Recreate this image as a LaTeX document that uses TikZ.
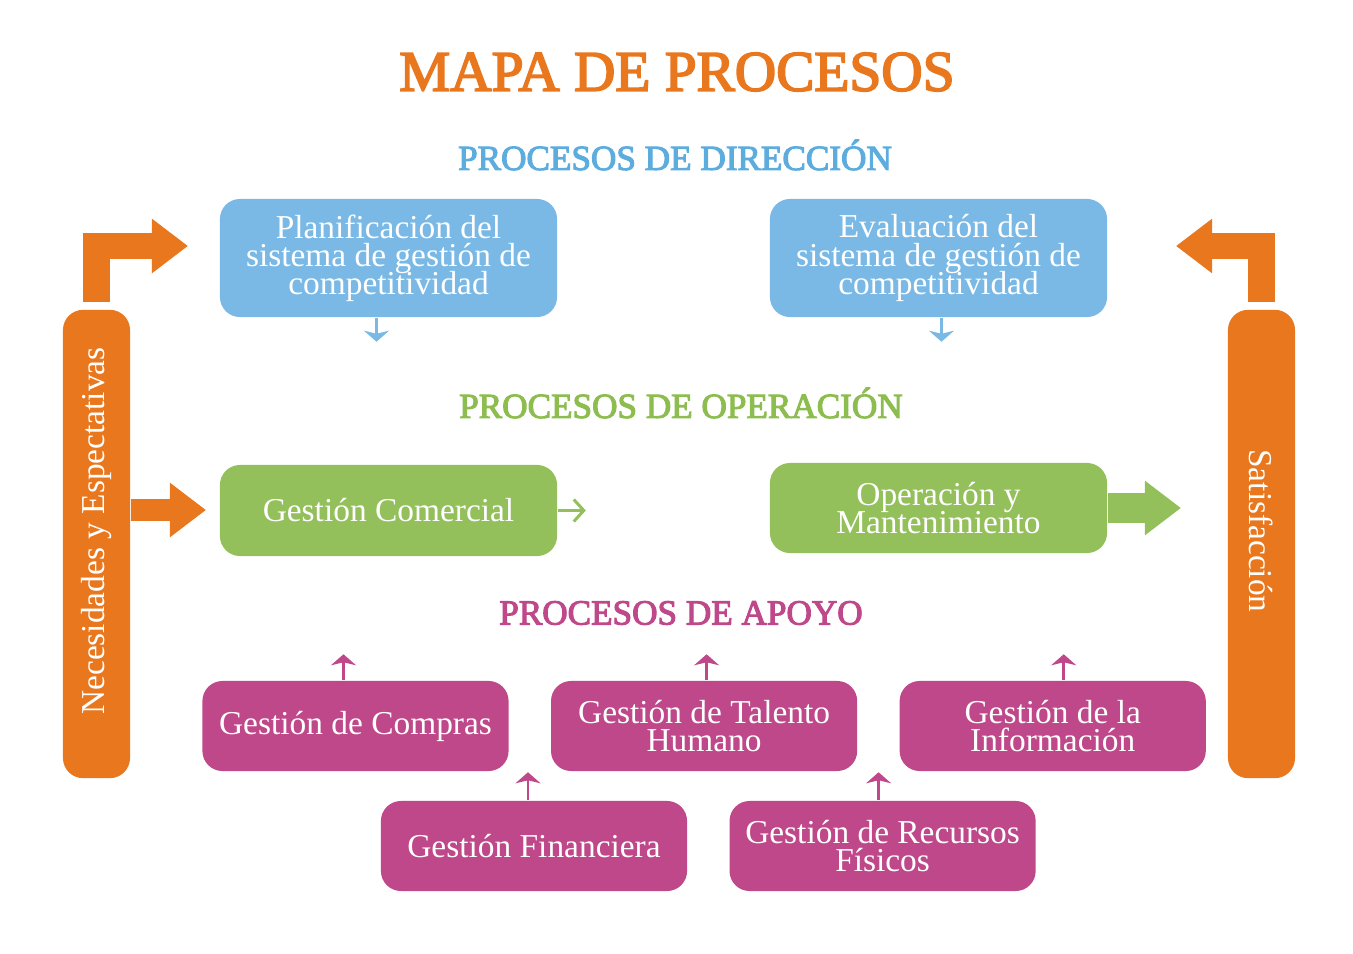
\documentclass[tikz,border=0pt]{standalone}
\usepackage{fontspec}
\setmainfont{Liberation Serif}
\newfontface\seminegra{Liberation Serif}[FakeBold=3]
\newcommand\juntas{\lineskiplimit-10pt\relax}
\usetikzlibrary{arrows.meta, positioning}
\definecolor{naranja}{RGB}{233,119,30}
\definecolor{azul}{RGB}{122,185,230}
\definecolor{azultit}{RGB}{92,172,222}
\definecolor{verde}{RGB}{147,192,90}
\definecolor{verdetit}{RGB}{140,189,78}
\definecolor{rosa}{RGB}{190,72,137}

\begin{document}
\begin{tikzpicture}[
        x=0.01cm, y=-0.01cm,
        font=\fontsize{9.5}{8}\selectfont\juntas, node distance=0.41cm,
        caja/.style={rounded corners=0.2cm, minimum width=3.37cm, minimum height=1.18cm, align=center, text=white, inner sep=0pt},
        apoyo/.style={caja, fill=rosa, minimum width=3.06cm, minimum height=0.9cm},
        barra/.style={fill=naranja, rounded corners=0.2cm, minimum width=0.67cm, minimum height=4.68cm, inner sep=0pt},
        titulo/.style={font=\seminegra\fontsize{10}{12}\selectfont},
        gruesa/.style={line join=miter, -{Triangle[length=0.36cm, width=0.52cm]}},
        fina/.style={line width=0.85pt, -{Stealth[length=0.11cm, width=0.25cm, inset=0.03cm]}}
    ]
        \useasboundingbox (0,0) rectangle (1353,954);

        \node[font=\seminegra\fontsize{16.3}{18}\selectfont, text=naranja] (mapa) at (677,72) {MAPA DE PROCESOS};

        % direccion
        \node[titulo, text=azultit] (tdir) at (675,155) {PROCESOS DE DIRECCIÓN};
        \node[caja, fill=azul] (plan) at (388.5,258) {Planificación del\\sistema de gestión de\\competitividad};
        \node[caja, fill=azul] (eval) at (938.5,258) {Evaluación del\\sistema de gestión de\\competitividad};

        % operacion
        \node[titulo, text=verdetit] (tope) at (681,403) {PROCESOS DE OPERACIÓN};
        \node[caja, fill=verde, minimum height=0.91cm] (com) at (388.5,510.5) {Gestión Comercial};
        \node[caja, fill=verde, minimum height=0.9cm] (opm) at (938.5,508) {Operación y\\Mantenimiento};

        % apoyo
        \node[titulo, text=rosa] (tapo) at (681,613) {PROCESOS DE APOYO};
        \node[apoyo] (comp) at (355.5,726) {Gestión de Compras};
        \node[apoyo, right=of comp] (tal) {Gestión de Talento\\Humano};
        \node[apoyo, right=of tal] (info) {Gestión de la\\Información};
        \node[apoyo] (fin) at (534,846) {Gestión Financiera};
        \node[apoyo, right=of fin] (rec) {Gestión de Recursos\\Físicos};

        % barras laterales
        \node[barra] (lbar) at (96.5,544) {};
        \node[barra] (rbar) at (1261.5,544) {};
        \node[rotate=90, text=white] (nec) at (96.5,531) {Necesidades y Espectativas};
        \node[rotate=-90, text=white] (sat) at (1261.5,531) {Satisfacción};

        \coordinate (ent1) at (188,246);
        \coordinate (ent2) at (206,510);
        \coordinate (sal1) at (1176,246);
        \coordinate (sal2) at (1181,508);

        \draw[gruesa, line width=0.26cm, naranja] ([yshift=0.07cm]lbar.north) |- (ent1);
        \draw[gruesa, line width=0.26cm, naranja] ([yshift=0.07cm]rbar.north) |- (sal1);
        \draw[gruesa, line width=0.22cm, naranja] (lbar.east |- ent2) -- (ent2);
        \draw[gruesa, line width=0.29cm, verde] (opm.east) -- (sal2);

        \draw[fina, azul] ([xshift=-0.12cm]plan.south) -- ++(0,24);
        \draw[fina, azul] ([xshift=0.03cm]eval.south) -- ++(0,24);
        \draw[verde, line width=0.85pt, -{Straight Barb[length=0.1cm, width=0.22cm]}] (com.east) -- ++(28,0);
        \draw[fina, rosa] ([xshift=-0.12cm]comp.north) -- ++(0,-26);
        \draw[fina, rosa] ([xshift=0.025cm]tal.north) -- ++(0,-26);
        \draw[fina, rosa] ([xshift=0.11cm]info.north) -- ++(0,-26);
        \draw[fina, rosa] ([xshift=-0.06cm]fin.north) -- ++(0,-28);
        \draw[fina, rosa] ([xshift=-0.04cm]rec.north) -- ++(0,-28);
    \end{tikzpicture}
\end{document}
